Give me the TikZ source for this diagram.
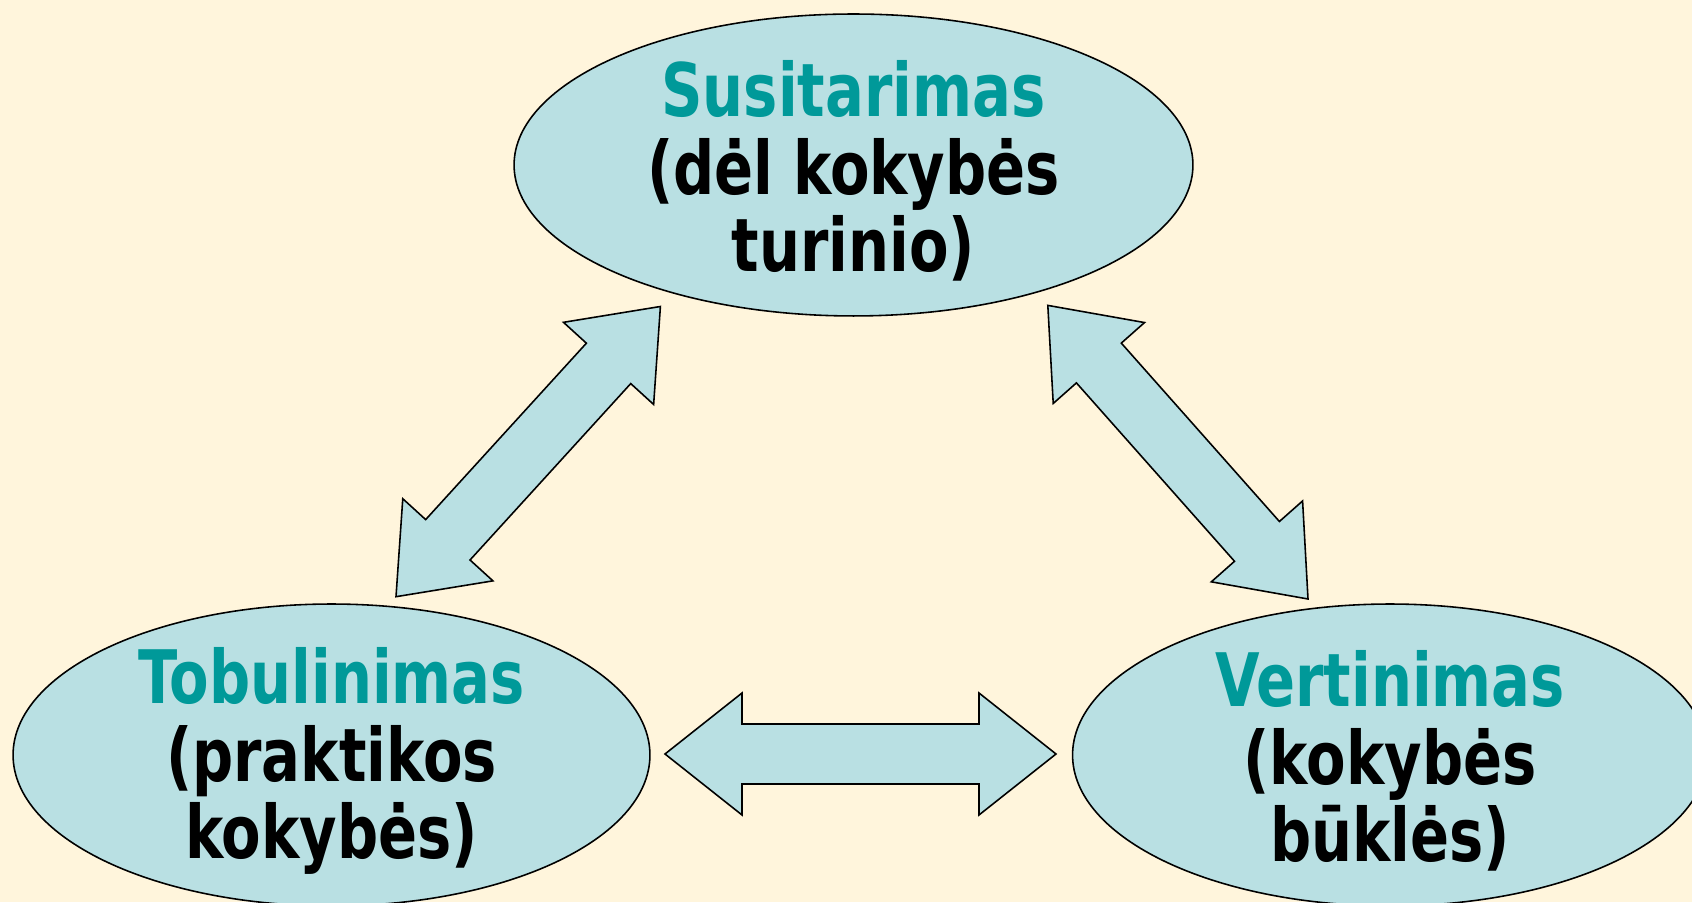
\documentclass[tikz,border=0pt]{standalone}
\usepackage{fontspec}
\setmainfont{DejaVu Sans}[FakeStretch=0.78]
\usetikzlibrary{calc}
\usetikzlibrary{shapes.geometric}

\definecolor{paper}{RGB}{255,245,220}
\definecolor{bubblefill}{RGB}{185,224,227}
\definecolor{headteal}{RGB}{0,153,153}

% wide double arrow between two named points
\newcommand{\dblarrow}[2]{%
  \draw[fatarrow] (#1)
    -- ($(#1)!1.54cm!(#2)!1.22cm!90:(#2)$)
    -- ($(#1)!1.54cm!(#2)!0.6cm!90:(#2)$)
    -- ($(#2)!1.54cm!(#1)!0.6cm!-90:(#1)$)
    -- ($(#2)!1.54cm!(#1)!1.22cm!-90:(#1)$)
    -- (#2)
    -- ($(#2)!1.54cm!(#1)!1.22cm!90:(#1)$)
    -- ($(#2)!1.54cm!(#1)!0.6cm!90:(#1)$)
    -- ($(#1)!1.54cm!(#2)!0.6cm!-90:(#2)$)
    -- ($(#1)!1.54cm!(#2)!1.22cm!-90:(#2)$)
    -- cycle;}

\begin{document}
\begin{tikzpicture}[x=0.02cm,y=0.02cm,
  bubble/.style={ellipse,draw=black,fill=bubblefill,line width=0.9pt,
    inner sep=0pt,minimum height=6.04cm},
  bubbletext/.style={align=center,inner sep=0pt,yshift=-0.12cm,
    font=\bfseries\fontsize{42}{44}\selectfont},
  fatarrow/.style={draw=black,fill=bubblefill,line width=0.9pt,line join=miter}]
                \fill[paper] (0,0) rectangle (1692,902);
                \useasboundingbox (0,0) rectangle (1692,902);
                \begin{scope}
                \clip (0,0) rectangle (1692,902);
                \node[bubble,minimum width=13.58cm] (sus) at (853.5,737) {};
                \node[bubble,minimum width=12.74cm] (tob) at (331.5,147) {};
                \node[bubble,minimum width=12.7cm] (ver) at (1390,147) {};
                \end{scope}
                \node[bubbletext] (sustext) at (sus.center)
                    {\textcolor{headteal}{Susitarimas}\\(dėl kokybės\\turinio)};
                \node[bubbletext] (tobtext) at (tob.center)
                    {\textcolor{headteal}{Tobulinimas}\\(praktikos\\kokybės)};
                \node[bubbletext] (vertext) at (ver.center)
                    {\textcolor{headteal}{Vertinimas}\\(kokybės\\būklės)};
                \coordinate (ls) at (660.4,595.5);
                \coordinate (lt) at (396,305.3);
                \coordinate (rs) at (1047.8,596.6);
                \coordinate (rv) at (1308,303);
                \coordinate (ht) at (665,148);
                \coordinate (hv) at (1056,148);
                \dblarrow{lt}{ls}
                \dblarrow{rs}{rv}
                \dblarrow{ht}{hv}
            \end{tikzpicture}
\end{document}
